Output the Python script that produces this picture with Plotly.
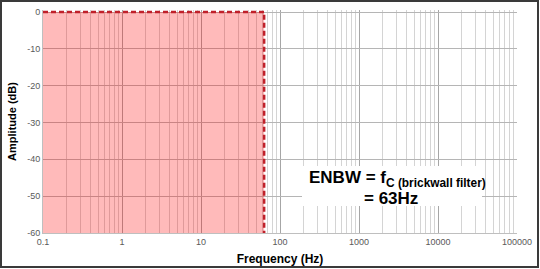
import plotly.graph_objects as go

# ---- data ----
f_min_hz = 0.1
cutoff_hz = 63
amp_top_db = 0
amp_bottom_db = -60

fill_x = [f_min_hz, cutoff_hz, cutoff_hz, f_min_hz]
fill_y = [amp_top_db, amp_top_db, amp_bottom_db, amp_bottom_db]
edge_x = [f_min_hz, cutoff_hz, cutoff_hz]
edge_y = [amp_top_db, amp_top_db, amp_bottom_db]

x_tickvals = [0.1, 1, 10, 100, 1000, 10000, 100000]
x_ticktext = ["0.1", "1", "10", "100", "1000", "10000", "100000"]
y_tickvals = [0, -10, -20, -30, -40, -50, -60]
y_ticktext = ["0", "-10", "-20", "-30", "-40", "-50", "-60"]

FONT = "Liberation Sans, Arial, sans-serif"
L, R, T, B = 43, 23, 10, 36
W, H = 540, 269
PW, PH = W - L - R, H - T - B
Y_TOP = 60 * 2 / 221  # 2 px of headroom so the dashed top edge is not clipped


def px(x):
    return (x - L) / PW


def py(y):
    return (H - B - y) / PH


fig = go.Figure()
fig.add_trace(go.Scatter(x=fill_x, y=fill_y, fill="toself", mode="none",
                         fillcolor="rgba(255,0,0,0.27)", hoverinfo="skip",
                         showlegend=False))
fig.add_trace(go.Scatter(x=edge_x, y=edge_y, mode="lines", cliponaxis=False,
                         line=dict(color="#c0202a", width=2.5, dash="5px,3px"),
                         showlegend=False))

fig.update_xaxes(type="log", range=[-1, 5], tickvals=x_tickvals, ticktext=x_ticktext,
                 showgrid=True, gridcolor="#a6a6a6", gridwidth=1,
                 minor=dict(dtick="D1", showgrid=True, gridcolor="#d4d4d4", gridwidth=1),
                 showline=True, linecolor="#bfbfbf", linewidth=1, zeroline=False,
                 ticks="", automargin=False,
                 tickfont=dict(family=FONT, size=9, color="#595959"),
                 title=dict(text="<b>Frequency (Hz)</b>", standoff=8,
                            font=dict(family=FONT, size=12, color="#000000")))
fig.update_yaxes(range=[-60, Y_TOP], tickvals=y_tickvals, ticktext=y_ticktext,
                 showgrid=True, gridcolor="#b5b5b5", gridwidth=1,
                 showline=True, linecolor="#bfbfbf", linewidth=1, zeroline=False,
                 ticks="", automargin=False,
                 tickfont=dict(family=FONT, size=9, color="#595959"),
                 title=dict(text="<b>Amplitude (dB)</b>", standoff=8,
                            font=dict(family=FONT, size=11, color="#000000")))

# white box behind annotation text
fig.add_shape(type="rect", xref="paper", yref="paper",
              x0=px(302), x1=px(482), y0=py(206), y1=py(166),
              fillcolor="white", line=dict(width=0), layer="above")
# outer frame
fig.add_shape(type="rect", xref="paper", yref="paper",
              x0=px(1), x1=px(538), y0=py(267), y1=py(1),
              line=dict(color="#3a3a3a", width=2), layer="above")

fig.add_annotation(x=cutoff_hz, y=amp_bottom_db, xref="x", yref="y",
                   ax=52, ay=-46, text="", showarrow=True,
                   arrowhead=2, arrowsize=1, arrowwidth=2, arrowcolor="#000000",
                   standoff=0)
fig.add_annotation(xref="paper", yref="paper", x=px(307), y=py(179),
                   xanchor="left", yanchor="middle", showarrow=False,
                   text="<b>ENBW = f<sub>C (brickwall filter)</sub></b>",
                   font=dict(family=FONT, size=17, color="#000000"))
fig.add_annotation(xref="paper", yref="paper", x=px(362), y=py(198),
                   xanchor="left", yanchor="middle", showarrow=False,
                   text="<b>= 63Hz</b>",
                   font=dict(family=FONT, size=17, color="#000000"))

fig.update_layout(width=W, height=H, margin=dict(l=L, r=R, t=T, b=B),
                  paper_bgcolor="white", plot_bgcolor="white",
                  font=dict(family=FONT))
fig.write_html("out.html")
